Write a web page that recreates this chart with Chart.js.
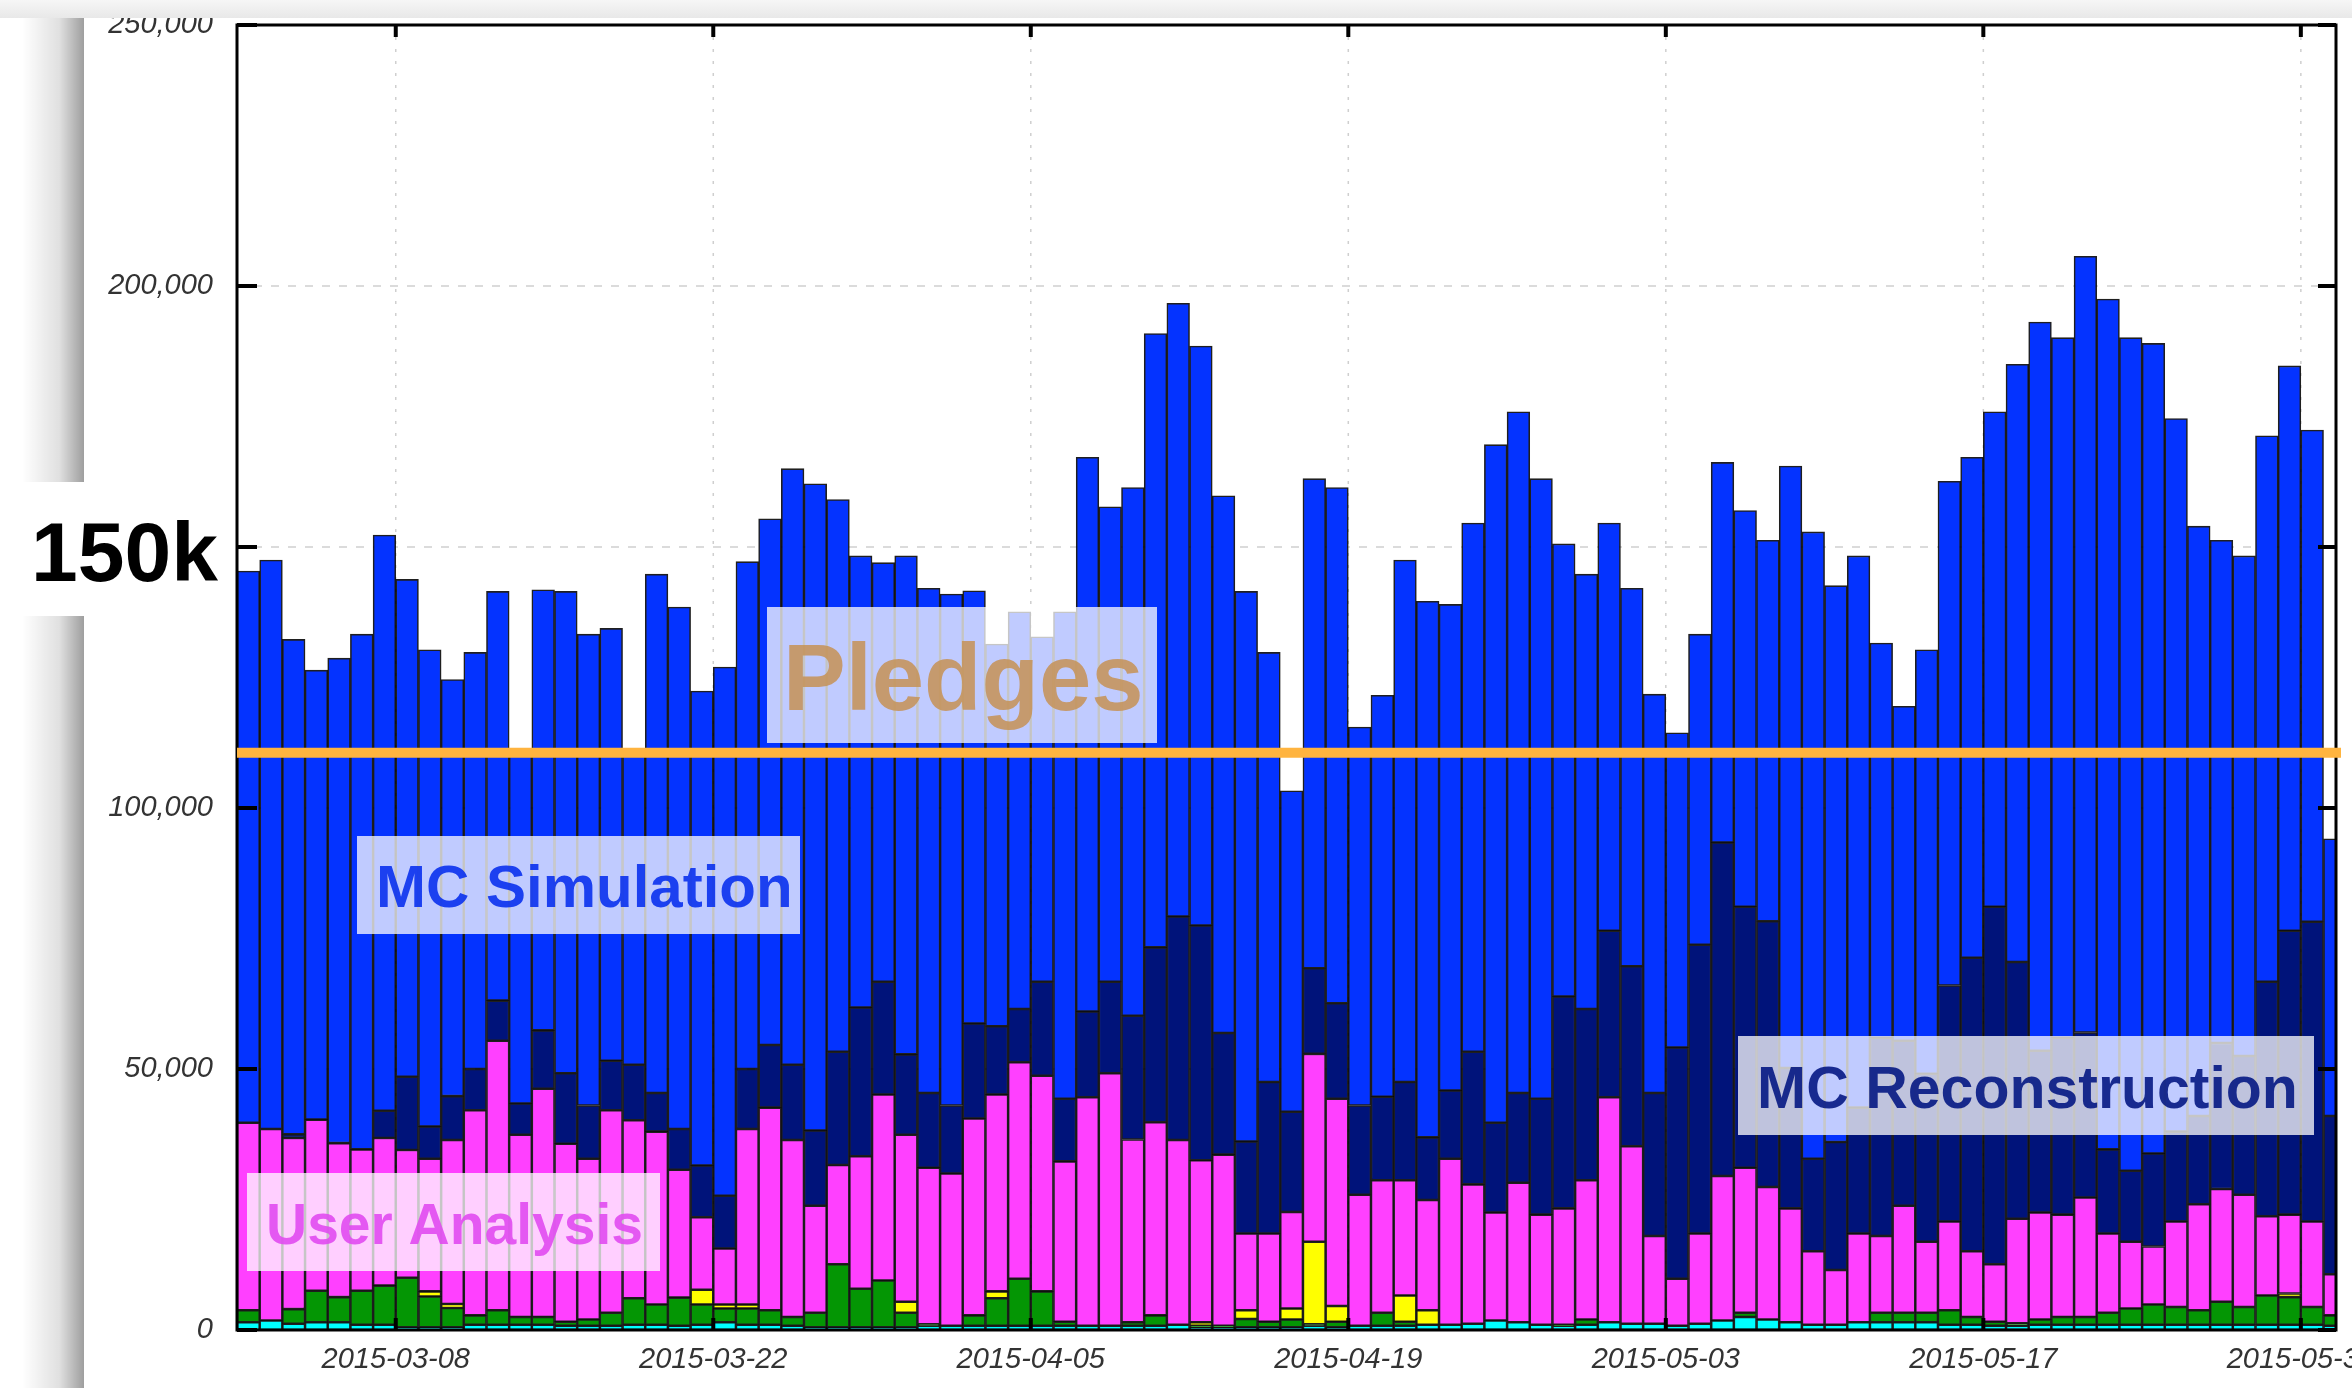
<!DOCTYPE html>
<html>
<head>
<meta charset="utf-8">
<script src="https://cdn.jsdelivr.net/npm/chart.js@4.4.1/dist/chart.umd.min.js"></script>
<style>
  html, body { margin: 0; padding: 0; background: #fff; overflow: hidden; }
  canvas { display: block; }
</style>
</head>
<body>
<canvas id="chartBase" width="2352" height="1388" style="width:2352px;height:1388px"></canvas>
<script>
// daily values in thousands, one entry per day from 2015-03-01
const cyan = [1.5,1.8,1.2,1.5,1.5,1.0,1.0,0.5,0.5,0.5, 1.0,1.0,1.0,1.0,0.8,0.8,0.8,1.0,1.0,0.8,
  1.0,1.5,1.0,1.0,0.8,0.5,0.5,0.5,0.5,0.5, 0.8,0.8,0.8,0.8,0.8,0.8,0.8,0.8,0.8,0.8,
  0.8,1.0,0.5,0.5,0.5,0.5,0.5,0.8,0.5,0.8, 0.8,0.8,1.0,1.0,1.2,1.8,1.5,1.0,0.8,1.0,
  1.5,1.2,1.2,0.8,1.2,1.8,2.5,2.0,1.5,1.0, 1.0,1.5,1.5,1.5,1.5,1.0,1.0,0.8,0.8,1.0,
  1.0,1.0,1.0,1.0,1.0,1.0,1.0,1.0,1.0,1.0, 1.0,1.0,0.8];

const green = [2.3,0,2.8,6.0,4.8,6.5,7.5,9.5,5.9,3.7, 1.8,2.8,1.5,1.5,0.8,1.2,2.5,5.1,3.9,5.4,
  3.9,2.6,3.1,2.8,1.7,2.8,12.1,7.4,9.0,2.8, 0.3,0,2.0,5.3,9.0,6.6,0.8,0,0,0.7,
  2.0,0,0.3,0.3,1.6,1.1,1.5,0.3,1.1,0, 2.5,0.8,0,0,0,0,0,0,0.2,1.0,
  0,0,0,0,0,0,0.8,0,0,0, 0,0,1.8,1.8,1.8,2.8,1.5,0.8,0.5,1.0,
  1.5,1.5,2.3,3.1,3.9,3.4,2.8,4.4,3.4,5.6, 5.3,3.4,2.0];

const yellow = [0,0,0,0,0,0,0,0,1.0,0.8, 0,0,0,0,0,0,0,0,0,0,
  2.8,0.8,0.8,0,0,0,0,0,0,2.1, 0,0,0,1.3,0,0,0,0,0,0,
  0,0,0.7,0,1.7,0,2.1,15.8,3.0,0, 0,5.0,2.8,0,0,0,0,0,0,0,
  0,0,0,0,0,0,0,0,0,0, 0,0,0,0,0,0,0,0,0,0,
  0,0,0,0,0,0,0,0,0,0, 0.7,0,0];

const userAnalysis = [35.9,36.7,32.8,32.8,29.5,27.1,28.3,24.5,25.4,31.4, 39.3,51.6,34.9,43.7,34.1,30.8,38.8,34.1,33.1,24.5,
  13.9,10.7,33.6,38.8,33.9,20.5,19.0,25.4,35.6,32.0, 30.0,29.2,37.7,37.7,41.5,41.3,30.7,43.8,48.4,35.0,
  37.0,35.4,31.0,32.8,14.7,16.9,18.5,36.0,39.7,25.1, 25.4,22.1,21.1,31.8,26.7,20.7,26.7,21.1,22.3,26.7,
  43.1,34.0,16.8,9.0,17.3,27.7,27.8,25.4,21.8,14.1, 10.5,17.0,14.7,20.5,13.6,17.0,12.6,11.0,20.0,20.5,
  19.6,22.9,15.2,12.8,11.1,16.4,20.3,21.6,21.5,15.2, 15.1,16.4,7.9];

const mcReconstruction = [0,0,0.7,0,0,0,5.2,14.0,6.2,8.4, 7.9,7.7,6.0,11.2,13.5,10.2,9.5,10.6,7.4,7.8,
  9.9,10.1,11.5,12.0,14.4,14.4,21.7,28.5,21.6,15.4, 14.3,13.0,18.2,13.1,10.2,18.0,12.0,16.4,17.5,23.7,
  33.5,42.8,45.0,23.3,17.6,29.0,19.2,16.4,18.3,17.1, 16.0,18.8,12.0,13.1,25.4,17.2,17.2,22.2,40.6,32.8,
  31.9,34.5,27.4,44.3,55.3,63.9,50.0,50.9,26.9,17.7, 24.5,24.1,38.0,31.6,32.2,45.2,56.2,68.5,49.2,31.0,
  33.9,31.6,16.1,13.6,17.8,17.2,16.9,28.0,26.6,44.9, 54.4,57.4,30.3];

const mcSimulation = [105.7,109.0,94.8,86.1,92.9,98.7,110.3,95.3,91.3,79.8, 79.8,78.4,66.6,84.4,92.3,90.3,82.8,59.2,99.4,100.0,
  90.9,101.3,97.2,100.8,114.2,123.9,105.8,86.5,80.3,95.5, 96.7,98.0,82.9,73.2,76.1,66.1,93.3,106.2,91.0,101.2,
  117.6,117.5,111.0,102.9,105.4,82.3,61.5,93.8,98.8,72.5, 76.9,100.0,102.7,93.1,101.3,129.9,130.5,118.8,86.7,83.3,
  78.1,72.4,76.4,60.3,59.5,72.8,75.9,73.0,115.3,120.1, 106.6,105.7,75.6,64.1,81.2,96.6,95.9,94.8,114.5,139.6,
  134.1,148.7,162.9,159.6,155.2,136.6,113.0,96.3,95.8,104.6, 108.2,94.2,53.1];

const pledge = 110.6; // thousands
const xTickDays = [7, 21, 35, 49, 63, 77, 91];
const xTickLabels = ["2015-03-08", "2015-03-22", "2015-04-05", "2015-04-19", "2015-05-03", "2015-05-17", "2015-05-31"];
const yTicks = [0, 50, 100, 150, 200, 250];

const series = [
  { label: "cyan", data: cyan, color: "#00ffff" },
  { label: "green", data: green, color: "#049604" },
  { label: "yellow", data: yellow, color: "#ffff00" },
  { label: "User Analysis", data: userAnalysis, color: "#ff40ff" },
  { label: "MC Reconstruction", data: mcReconstruction, color: "#00137a" },
  { label: "MC Simulation", data: mcSimulation, color: "#0433ff" }
];

const tickFont = { family: "Liberation Sans", size: 29, style: "italic" };

function line(ctx, x0, y0, x1, y1) {
  ctx.beginPath();
  ctx.moveTo(x0, y0);
  ctx.lineTo(x1, y1);
  ctx.stroke();
}

// grid behind bars, frame and inward ticks on top
const frame = {
  id: "frame",
  beforeDraw(chart) {
    const ctx = chart.ctx;
    ctx.save();
    ctx.fillStyle = "#fff";
    ctx.fillRect(0, 0, chart.width, chart.height);
    ctx.restore();
  },
  beforeDatasetsDraw(chart) {
    const { ctx, chartArea: a, scales: { x, y } } = chart;
    ctx.save();
    ctx.strokeStyle = "#cfcfcf";
    ctx.lineWidth = 1.5;
    ctx.setLineDash([8, 9]);
    yTicks.forEach(function (v) {
      if (v <= 0 || v >= 250) return;
      const py = y.getPixelForValue(v);
      line(ctx, a.left, py, a.right, py);
    });
    ctx.setLineDash([3, 9]);
    xTickDays.forEach(function (d) {
      const px = x.getPixelForValue(d);
      line(ctx, px, a.top, px, a.bottom);
    });
    ctx.restore();
  },
  afterDatasetsDraw(chart) {
    const { ctx, chartArea: a, scales: { x, y } } = chart;
    ctx.save();
    ctx.strokeStyle = "#000";
    ctx.lineWidth = 3;
    ctx.strokeRect(a.left, a.top, a.right - a.left, a.bottom - a.top);
    ctx.lineWidth = 4;
    yTicks.forEach(function (v) {
      const py = y.getPixelForValue(v);
      line(ctx, a.left, py, a.left + 20, py);
      line(ctx, a.right - 18, py, a.right, py);
    });
    xTickDays.forEach(function (d) {
      const px = x.getPixelForValue(d);
      line(ctx, px, a.top, px, a.top + 12);
      line(ctx, px, a.bottom - 12, px, a.bottom);
    });
    ctx.restore();
  }
};

function labelBox(ctx, x0, y0, x1, y1, text, color, size, tx, ty) {
  ctx.fillStyle = "rgba(255,255,255,0.75)";
  ctx.fillRect(x0, y0, x1 - x0, y1 - y0);
  ctx.globalAlpha = 0.88;
  ctx.fillStyle = color;
  ctx.font = "bold " + size + "px 'Liberation Sans'";
  ctx.fillText(text, tx, ty);
  ctx.globalAlpha = 1;
}

// pledge line, labels and the slide decorations
const overlay = {
  id: "overlay",
  afterDraw(chart) {
    const { ctx, chartArea: a, scales: { y } } = chart;
    ctx.save();

    const py = y.getPixelForValue(pledge);
    ctx.strokeStyle = "#ffb43f";
    ctx.lineWidth = 10;
    line(ctx, a.left, py, a.right + 5, py);

    ctx.textBaseline = "alphabetic";
    ctx.textAlign = "left";
    labelBox(ctx, 767, 607, 1157, 743, "Pledges", "#c5935a", 94, 783, 710);
    labelBox(ctx, 357, 836, 800, 934, "MC Simulation", "#052cee", 60, 376, 907);
    labelBox(ctx, 1738, 1036, 2314, 1135, "MC Reconstruction", "#001381", 59, 1757, 1108);
    labelBox(ctx, 247, 1173, 660, 1271, "User Analysis", "#e048f0", 57, 266, 1244);

    // slide shadow on the left and strip on top
    const g = ctx.createLinearGradient(22, 0, 84, 0);
    g.addColorStop(0, "rgba(0,0,0,0)");
    g.addColorStop(0.6, "rgba(0,0,0,0.12)");
    g.addColorStop(1, "rgba(0,0,0,0.38)");
    ctx.fillStyle = g;
    ctx.fillRect(22, 18, 62, chart.height - 18);

    const t = ctx.createLinearGradient(0, 0, 0, 18);
    t.addColorStop(0, "#f6f6f6");
    t.addColorStop(1, "#e8e8e8");
    ctx.fillStyle = t;
    ctx.fillRect(0, 0, chart.width, 18);

    // big 150k label
    const p150 = y.getPixelForValue(150);
    ctx.fillStyle = "#fff";
    ctx.fillRect(0, p150 - 65, 233, 134);
    ctx.fillStyle = "#000";
    ctx.font = "bold 84px 'Liberation Sans'";
    ctx.fillText("150k", 31, p150 + 34);

    ctx.restore();
  }
};

const canvas = document.getElementById("chartBase");
const chartBase = new Chart(canvas.getContext("2d"), {
  type: "bar",
  data: {
    datasets: series.map(function (s) {
      return {
        label: s.label,
        data: s.data.map(function (v, i) { return { x: i + 0.5, y: v > 0 ? v : null }; }),
        backgroundColor: s.color,
        borderColor: "rgba(0,0,0,0.88)",
        borderWidth: 1.6,
        borderSkipped: false,
        barPercentage: 1,
        categoryPercentage: 1,
        clip: 0
      };
    })
  },
  options: {
    responsive: false,
    animation: false,
    events: [],
    layout: { padding: { left: 0, right: 16, top: 25, bottom: 0 } },
    plugins: { legend: { display: false }, tooltip: { enabled: false } },
    scales: {
      x: {
        type: "linear",
        min: 0,
        max: 92.55,
        offset: false,
        stacked: true,
        grid: { display: false, drawTicks: false },
        border: { display: false },
        afterBuildTicks: function (s) {
          s.ticks = xTickDays.map(function (d) { return { value: d }; });
        },
        afterFit: function (s) {
          s.height = 58;
          s.paddingLeft = 0;
          s.paddingRight = 0;
        },
        ticks: {
          autoSkip: false,
          maxRotation: 0,
          padding: 13,
          color: "#333",
          font: tickFont,
          callback: function (v) {
            const k = xTickDays.indexOf(v);
            return k >= 0 ? xTickLabels[k] : "";
          }
        }
      },
      y: {
        min: 0,
        max: 250,
        stacked: true,
        grid: { display: false, drawTicks: false },
        border: { display: false },
        afterFit: function (s) {
          s.width = 237;
          s.paddingTop = 0;
          s.paddingBottom = 0;
        },
        ticks: {
          stepSize: 50,
          padding: 24,
          color: "#333",
          font: tickFont,
          callback: function (v) { return (v * 1000).toLocaleString("en-US"); }
        }
      }
    }
  },
  plugins: [frame, overlay]
});
</script>
</body>
</html>
